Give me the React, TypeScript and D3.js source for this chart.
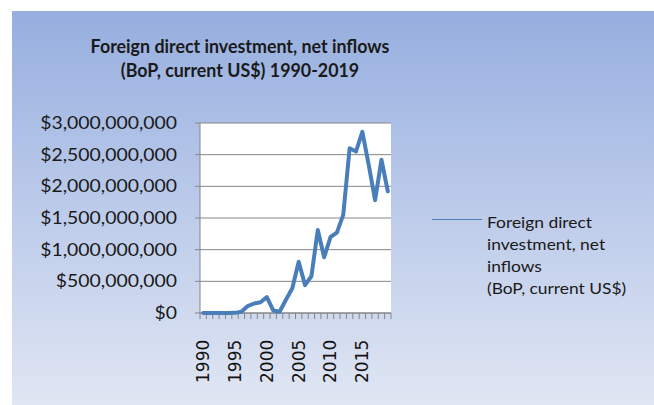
import React from "react";
import * as d3 from "d3";

const years = d3.range(1990, 2020).map(String);
const fdiValues = [
  0, 0, 0, 0, 0, 0.002e9, 0.02e9, 0.11e9, 0.15e9, 0.17e9,
  0.25e9, 0.04e9, 0.02e9, 0.21e9, 0.39e9, 0.81e9, 0.44e9, 0.58e9, 1.31e9, 0.88e9,
  1.2e9, 1.27e9, 1.55e9, 2.6e9, 2.55e9, 2.86e9, 2.34e9, 1.78e9, 2.42e9, 1.92e9,
];
const yTicks = [0, 5e8, 1e9, 1.5e9, 2e9, 2.5e9, 3e9];
const xLabels = ["1990", "1995", "2000", "2005", "2010", "2015"];
const titleLines = ["Foreign direct investment, net inflows", "(BoP, current US$) 1990-2019"];
const legendLines = ["Foreign direct", "investment, net", "inflows", "(BoP, current US$)"];

export default function App() {
  const W = 654, H = 405;
  const plot = { left: 200, right: 391, top: 123, bottom: 313 };
  const x = d3.scaleBand().domain(years).range([plot.left, plot.right]).padding(0);
  const y = d3.scaleLinear().domain([0, 3e9]).range([plot.bottom, plot.top]);
  const cx = (yr: string) => (x(yr) as number) + x.bandwidth() / 2;
  const line = d3
    .line<number>()
    .x((_, i) => cx(years[i]))
    .y((v) => y(v));
  const fmt = (v: number) => "$" + d3.format(",")(v);
  const boundaries = years.map((yr) => x(yr) as number).concat([plot.right]);
  const lineColor = "#4a7ebb";
  const gridColor = "#868686";
  const font = "Lato, 'Open Sans', sans-serif";

  return (
    <svg
      width={W}
      height={H}
      style={{ position: "absolute", left: 0, top: 0, display: "block" }}
    >
      <defs>
        <linearGradient id="bg" x1="0" y1="0" x2="0" y2="1">
          <stop offset="0" stopColor="#96aedf" />
          <stop offset="0.5" stopColor="#bccbea" />
          <stop offset="1" stopColor="#e0e6f3" />
        </linearGradient>
      </defs>
      <rect x={0} y={0} width={W} height={H} fill="#ffffff" />
      <rect x={12} y={11} width={W - 12} height={H - 11} fill="url(#bg)" />

      {titleLines.map((t, i) => (
        <text
          key={i}
          transform={`translate(240,${53 + i * 23.5}) scale(0.915,1)`}
          textAnchor="middle"
          fontFamily={font}
          fontWeight="bold"
          fontSize={19.5}
          fill="#1a1a1a"
        >
          {t}
        </text>
      ))}

      <rect
        x={plot.left}
        y={plot.top}
        width={plot.right - plot.left}
        height={plot.bottom - plot.top}
        fill="#ffffff"
      />
      {yTicks.map((t) => (
        <g key={t}>
          <line x1={plot.left} x2={plot.right} y1={y(t)} y2={y(t)} stroke={gridColor} strokeWidth={1} />
          <line x1={plot.left - 5} x2={plot.left} y1={y(t)} y2={y(t)} stroke={gridColor} strokeWidth={1} />
          <text
            transform={`translate(177,${y(t)}) scale(1.14,1)`}
            dy="0.36em"
            textAnchor="end"
            fontFamily={font}
            fontSize={17}
            fill="#1a1a1a"
          >
            {fmt(t)}
          </text>
        </g>
      ))}
      <line x1={plot.left} x2={plot.left} y1={plot.top} y2={plot.bottom} stroke={gridColor} strokeWidth={1} />
      <line x1={plot.left} x2={plot.right} y1={plot.bottom} y2={plot.bottom} stroke={gridColor} strokeWidth={1} />
      {boundaries.map((b, i) => (
        <line key={i} x1={b} x2={b} y1={plot.bottom} y2={plot.bottom + 6} stroke={gridColor} strokeWidth={1} />
      ))}
      {xLabels.map((yr) => (
        <text
          key={yr}
          transform={`translate(${cx(yr)},${383}) rotate(-90)`}
          dy="0.35em"
          textAnchor="start"
          fontFamily="'DejaVu Sans', sans-serif"
          fontSize={17}
          fill="#111"
        >
          {yr}
        </text>
      ))}

      <path
        d={line(fdiValues) as string}
        fill="none"
        stroke={lineColor}
        strokeWidth={4}
        strokeLinejoin="round"
        strokeLinecap="round"
      />

      <line x1={432} x2={482} y1={219.5} y2={219.5} stroke={lineColor} strokeWidth={1.2} />
      {legendLines.map((t, i) => (
        <text
          key={i}
          transform={`translate(487,${222.7 + i * 21.9}) scale(1.16,1)`}
          dy="0.35em"
          fontFamily={font}
          fontSize={15}
          fill="#1a1a1a"
        >
          {t}
        </text>
      ))}
    </svg>
  );
}
